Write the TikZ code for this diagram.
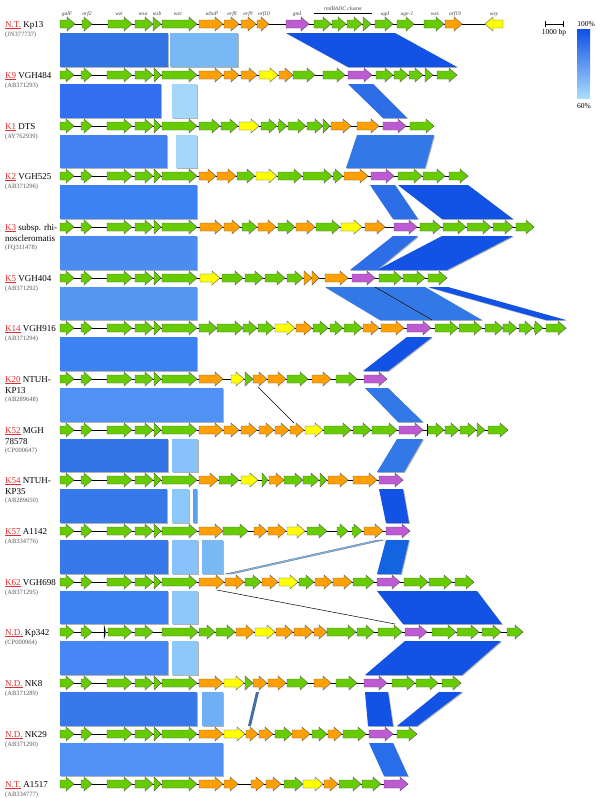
\documentclass[tikz,border=0pt]{standalone}
\usepackage{fontspec}
\setmainfont{Liberation Serif}
\definecolor{ggreen}{RGB}{102,204,0}
\definecolor{gorange}{RGB}{255,160,0}
\definecolor{gyellow}{RGB}{255,255,0}
\definecolor{gpurple}{RGB}{190,90,210}
\definecolor{kred}{RGB}{225,45,45}
\definecolor{acc}{RGB}{90,90,90}
\definecolor{bA}{RGB}{50,115,230}
\definecolor{bB}{RGB}{65,130,240}
\definecolor{bC}{RGB}{60,130,245}
\definecolor{bD}{RGB}{18,82,228}
\definecolor{bE}{RGB}{45,110,230}
\definecolor{bF}{RGB}{50,110,240}
\definecolor{bG}{RGB}{50,120,230}
\definecolor{bH}{RGB}{75,140,240}
\definecolor{bI}{RGB}{85,150,240}
\definecolor{bJ}{RGB}{80,145,245}
\definecolor{bK}{RGB}{55,120,235}
\definecolor{bL}{RGB}{70,135,245}
\definecolor{bM}{RGB}{40,110,235}
\definecolor{bN}{RGB}{20,100,225}
\definecolor{lA}{RGB}{120,185,245}
\definecolor{lB}{RGB}{165,215,250}
\definecolor{lC}{RGB}{135,195,250}
\definecolor{lD}{RGB}{140,200,250}
\definecolor{lE}{RGB}{90,160,240}
\definecolor{lF}{RGB}{110,175,245}
\definecolor{steel}{RGB}{70,110,160}
\definecolor{gradtop}{RGB}{15,80,230}
\definecolor{gradbot}{RGB}{170,220,252}
\tikzset{
  genestyle/.style={draw=black!65,line width=0.4pt},
  bbone/.style={draw=black,line width=0.9pt},
  lab/.style={anchor=base west,inner sep=0pt,font=\fontsize{9}{10}\selectfont},
  acclab/.style={anchor=base west,inner sep=0pt,font=\fontsize{6.5}{7}\selectfont,text=acc},
  toplab/.style={anchor=base,inner sep=0pt,font=\fontsize{5.5}{6}\selectfont\itshape,text=black!75},
  thinline/.style={draw=black,line width=0.5pt}
}
\newcommand{\gn}[4]{%
  \pgfmathsetmacro{\ghl}{min(8,#2-#1)}%
  \filldraw[genestyle,fill=#4] (#1,#3-4) -- ({#2-\ghl},#3-4) -- ({#2-\ghl},#3-7) -- (#2,#3) -- ({#2-\ghl},#3+7) -- ({#2-\ghl},#3+4) -- (#1,#3+4) -- cycle;}
\newcommand{\gnr}[4]{%
  \filldraw[genestyle,fill=#4] (#2,#3-4) -- (#1+8,#3-4) -- (#1+8,#3-7) -- (#1,#3) -- (#1+8,#3+7) -- (#1+8,#3+4) -- (#2,#3+4) -- cycle;}
\newcommand{\genes}[3]{\foreach \ga/\gb in {#3} {\gn{\ga}{\gb}{#1}{#2}}}
\newcommand{\stdl}[1]{\genes{#1}{ggreen}{60/74,81/92,107/132,135/153,154/161,162/197}}
\newcommand{\bbn}[3]{\draw[bbone] (#1,#3) -- (#2,#3);}
\newcommand{\hband}[7]{%
  \fill[black!30] ({#3+0.9},#1+9.9) -- ({#4+0.9},#1+9.9) -- ({#6+0.9},#2-7.1) -- ({#5+0.9},#2-7.1) -- cycle;
  \fill[#7] (#3,#1+9) -- (#4,#1+9) -- (#6,#2-8) -- (#5,#2-8) -- cycle;}
\newcommand{\strain}[5]{%
  \node[lab] (#1) at (5,#2+3) {\textcolor{kred}{\underline{#3}} #4};
  \node[acclab] (#1acc) at (5,#2+12.5) {#5};}
\newcommand{\straintwo}[6]{%
  \node[lab] (#1) at (5,#2+3) {\textcolor{kred}{\underline{#3}} #4};
  \node[lab] (#1b) at (5,#2+14) {#5};
  \node[acclab] (#1acc) at (5,#2+22.5) {#6};}
\begin{document}
\begin{tikzpicture}[x=1pt,y=-1pt]
\useasboundingbox (0,0) rectangle (600,798);
\fill[white] (0,0) rectangle (600,798);

% ---------------- bands ----------------
% 1-2
\hband{24}{75}{60}{168}{60}{168}{bA}
\hband{24}{75}{170}{238}{170}{238}{lA}
\hband{24}{75}{286}{395}{348}{457}{bD}
% 2-3
\hband{75}{126}{60}{161}{60}{161}{bF}
\hband{75}{126}{172}{197}{172}{197}{lB}
\hband{75}{126}{348}{373}{383}{407}{bE}
% 3-4
\hband{126}{176}{60}{167}{60}{167}{bB}
\hband{126}{176}{176}{197}{176}{197}{lB}
\hband{126}{176}{357}{434}{346}{425}{bG}
% 4-5
\hband{176}{227}{60}{197}{60}{197}{bC}
\hband{176}{227}{370}{395}{393}{418}{bE}
\hband{176}{227}{398}{468}{442}{513}{bD}
% 5-6
\hband{227}{278}{60}{197}{60}{197}{bH}
\hband{227}{278}{393}{418}{350}{377}{bE}
\hband{227}{278}{442}{513}{377}{447}{bD}
% 6-7
\hband{278}{328}{60}{197}{60}{197}{bI}
\hband{278}{328}{325}{375}{380}{432}{bG}
\hband{278}{328}{375}{425}{432}{482}{bG}
\hband{278}{328}{428}{448}{546}{566}{bD}
\coordinate (l1a) at (375,287);
\coordinate (l1b) at (432,320);
\draw[thinline] (l1a) -- (l1b);
% 7-8
\hband{328}{379}{60}{197}{60}{197}{bC}
\hband{328}{379}{407}{432}{363}{388}{bD}
% 8-9
\hband{379}{430}{60}{223}{60}{223}{bJ}
\hband{379}{430}{365}{388}{398}{423}{bG}
\coordinate (l2a) at (258,387);
\coordinate (l2b) at (294,423);
\draw[thinline] (l2a) -- (l2b);
% 9-10
\hband{430}{480}{60}{168}{60}{168}{bA}
\hband{430}{480}{172}{198}{172}{198}{lC}
\hband{430}{480}{397}{423}{377}{404}{bG}
% 10-11
\hband{480}{531}{60}{167}{60}{167}{bK}
\hband{480}{531}{172}{189}{172}{189}{lD}
\hband{480}{531}{193}{197}{193}{197}{lE}
\hband{480}{531}{379}{403}{386}{409}{bD}
% 11-12
\hband{531}{582}{60}{168}{60}{168}{bK}
\hband{531}{582}{172}{198}{172}{198}{lC}
\hband{531}{582}{202}{223}{202}{223}{lA}
\filldraw[fill=lA,draw=black!60,line width=0.3pt] (377,540) -- (384,540) -- (232,574) -- (225,574) -- cycle;
\hband{531}{582}{386}{409}{377}{401}{bN}
% 12-13
\hband{582}{632}{60}{168}{60}{168}{bC}
\hband{582}{632}{172}{198}{172}{198}{lD}
\hband{582}{632}{377}{477}{403}{502}{bD}
\coordinate (l3a) at (217,590);
\coordinate (l3b) at (395,624);
\draw[thinline] (l3a) -- (l3b);
% 13-14
\hband{632}{683}{60}{168}{60}{168}{bL}
\hband{632}{683}{172}{198}{172}{198}{lD}
\hband{632}{683}{405}{501}{365}{462}{bD}
% 14-15
\hband{683}{734}{60}{197}{60}{197}{bK}
\hband{683}{734}{202}{223}{202}{223}{lF}
\fill[steel] (256,692) -- (259,692) -- (251,726) -- (248,726) -- cycle;
\hband{683}{734}{365}{388}{368}{393}{bD}
\hband{683}{734}{439}{462}{397}{417}{bD}
% 15-16
\hband{734}{784}{60}{223}{60}{223}{bJ}
\hband{734}{784}{369}{393}{384}{408}{bM}

% ---------------- rows ----------------
% Row 1 Kp13
\bbn{60}{503}{24}
\genes{24}{ggreen}{60/75,82/92,108/132,135/153,153/161,162/197,314/331,332/346,347/362,363/371,375/393,397/414,424/444}
\genes{24}{gorange}{199/223,224/239,241/256,257/269,445/462}
\genes{24}{gpurple}{286/309}
\gnr{485}{503}{24}{gyellow}
% Row 2 K9
\bbn{60}{457}{75}
\stdl{75}
\genes{75}{gorange}{199/223,224/239,241/257,279/293}
\genes{75}{gyellow}{259/278}
\genes{75}{ggreen}{293/315,323/345,376/393,394/408,409/423,425/433,437/457}
\genes{75}{gpurple}{348/372}
% Row 3 K1
\bbn{60}{434}{126}
\stdl{126}
\genes{126}{ggreen}{199/220,221/238,261/277,278/287,288/306,307/323,323/330,410/434}
\genes{126}{gyellow}{239/259}
\genes{126}{gorange}{331/351,357/379}
\genes{126}{gpurple}{383/406}
% Row 4 K2
\bbn{60}{468}{176}
\stdl{176}
\genes{176}{gorange}{199/216,217/236,344/368}
\genes{176}{ggreen}{237/255,278/302,303/332,333/343,398/422,423/445,449/468}
\genes{176}{gyellow}{256/277}
\genes{176}{gpurple}{371/394}
% Row 5 K3
\bbn{60}{534}{227}
\stdl{227}
\genes{227}{gorange}{200/223,224/240,258/276,296/315,365/385}
\genes{227}{ggreen}{242/257,278/295,316/340,420/441,443/466,467/491,493/513,516/534}
\genes{227}{gyellow}{341/362}
\genes{227}{gpurple}{394/417}
% Row 6 K5
\bbn{60}{447}{278}
\stdl{278}
\genes{278}{gyellow}{200/220}
\genes{278}{ggreen}{222/243,245/263,265/285,287/303,379/402,403/425,428/447}
\genes{278}{gorange}{304/312,312/319,325/348}
\genes{278}{gpurple}{352/375}
% Row 7 K14
\bbn{60}{566}{328}
\stdl{328}
\genes{328}{ggreen}{199/217,217/243,243/257,258/274,313/328,330/343,344/362,435/458,459/482,485/503,503/517,519/533,534/543,546/566}
\genes{328}{gyellow}{275/295}
\genes{328}{gorange}{296/312,363/379,381/404}
\genes{328}{gpurple}{407/431}
% Row 8 K20
\bbn{60}{387}{379}
\stdl{379}
\genes{379}{gorange}{199/223,253/267,268/286,312/331}
\genes{379}{gyellow}{231/244}
\genes{379}{ggreen}{245/253,287/308,336/357}
\genes{379}{gpurple}{364/387}
% Row 9 K52
\bbn{60}{508}{430}
\stdl{430}
\genes{430}{gorange}{199/223,224/239,241/257,259/274,275/289,290/304}
\genes{430}{gyellow}{305/323}
\genes{430}{ggreen}{324/351,353/371,372/397,428/444,445/459,460/476,477/485,488/508}
\genes{430}{gpurple}{399/423}
\draw[black,line width=0.8pt] (427,424) -- (427,436);
% Row 10 K54
\bbn{60}{403}{480}
\stdl{480}
\genes{480}{gorange}{199/218,269/284,328/348,353/377}
\genes{480}{ggreen}{219/239,262/268,284/303,303/319,320/327}
\genes{480}{gyellow}{241/258}
\genes{480}{gpurple}{379/403}
% Row 11 K57
\bbn{60}{410}{531}
\stdl{531}
\genes{531}{gorange}{199/223,254/267,268/286,364/383}
\genes{531}{ggreen}{223/248,307/327,337/348,352/362}
\genes{531}{gyellow}{287/305}
\genes{531}{gpurple}{386/410}
% Row 12 K62
\bbn{60}{474}{582}
\stdl{582}
\genes{582}{gorange}{199/224,225/244,262/278,315/332,333/352}
\genes{582}{ggreen}{245/261,299/314,353/374,404/428,429/452,455/474}
\genes{582}{gyellow}{279/298}
\genes{582}{gpurple}{377/400}
% Row 13 Kp342
\bbn{60}{523}{632}
\genes{632}{ggreen}{60/74,81/92,104/106,108/132,135/153,162/198,199/215,216/235,327/356,357/374,378/402,432/456,457/479,482/501,507/523}
\draw[black,line width=0.6pt] (104,627) -- (104,637);
\genes{632}{gorange}{236/254,276/293,294/313,314/327}
\genes{632}{gyellow}{255/275}
\genes{632}{gpurple}{405/427}
% Row 14 NK8
\bbn{60}{461}{683}
\stdl{683}
\genes{683}{gorange}{199/223,253/267,268/286,314/331}
\genes{683}{gyellow}{224/244}
\genes{683}{ggreen}{245/253,287/308,336/357,392/415,416/438,442/461}
\genes{683}{gpurple}{364/387}
% Row 15 NK29
\bbn{60}{417}{734}
\stdl{734}
\genes{734}{gorange}{199/223,246/258,259/273,292/310,328/342}
\genes{734}{gyellow}{224/245}
\genes{734}{ggreen}{275/292,312/327,343/366,397/417}
\genes{734}{gpurple}{369/393}
% Row 16 A1517
\bbn{60}{408}{784}
\stdl{784}
\genes{784}{gorange}{199/223,224/238,251/264,266/281,324/338}
\genes{784}{ggreen}{284/303,339/361,362/381}
\genes{784}{gyellow}{303/323}
\genes{784}{gpurple}{384/408}

% ---------------- top gene labels ----------------
\node[toplab] (t1) at (67,15) {galF};
\node[toplab] (t2) at (87,15) {orf2};
\node[toplab] (t3) at (119,15) {wzi};
\node[toplab] (t4) at (143,15) {wza};
\node[toplab] (t5) at (157,15) {wzb};
\node[toplab] (t6) at (178,15) {wzc};
\node[toplab] (t7) at (212,15) {wbaP};
\node[toplab] (t8) at (232,15) {orf8};
\node[toplab] (t9) at (248,15) {orf9};
\node[toplab] (t10) at (264,15) {orf10};
\node[toplab] (t11) at (297,15) {gnd};
\node[toplab] (t12) at (343,10) {rmlBADC\ \textup{cluster}};
\coordinate (cl1) at (314,13);
\coordinate (cl2) at (372,13);
\draw[black,line width=0.6pt] (cl1) -- (cl2);
\node[toplab] (t13) at (385,15) {ugd};
\node[toplab] (t14) at (407,15) {uge-1};
\node[toplab] (t15) at (435,15) {wzx};
\node[toplab] (t16) at (455,15) {orf19};
\node[toplab] (t17) at (494,15) {wzy};

% ---------------- strain labels ----------------
\strain{s1}{24}{N.T.}{Kp13}{(JN377737)}
\strain{s2}{75}{K9}{VGH484}{(AB371293)}
\strain{s3}{126}{K1}{DTS}{(AY762939)}
\strain{s4}{176}{K2}{VGH525}{(AB371296)}
\straintwo{s5}{227}{K3}{subsp. rhi-}{noscleromatis}{(FQ311478)}
\strain{s6}{278}{K5}{VGH404}{(AB371292)}
\strain{s7}{328}{K14}{VGH916}{(AB371294)}
\straintwo{s8}{379}{K20}{NTUH-}{KP13}{(AB289648)}
\straintwo{s9}{430}{K52}{MGH}{78578}{(CP000647)}
\straintwo{s10}{480}{K54}{NTUH-}{KP35}{(AB289650)}
\strain{s11}{531}{K57}{A1142}{(AB334776)}
\strain{s12}{582}{K62}{VGH698}{(AB371295)}
\strain{s13}{632}{N.D.}{Kp342}{(CP000964)}
\strain{s14}{683}{N.D.}{NK8}{(AB371289)}
\strain{s15}{734}{N.D.}{NK29}{(AB371290)}
\strain{s16}{784}{N.T.}{A1517}{(AB334777)}

% ---------------- legend ----------------
\coordinate (sb1) at (545,24);
\coordinate (sb2) at (563,24);
\draw[black,line width=1pt] (sb1) -- (sb2);
\draw[black,line width=0.8pt] (545,21) -- (545,27) (563,21) -- (563,27);
\node[inner sep=0pt,font=\fontsize{7.5}{8}\selectfont] (sbl) at (554,33) {1000 bp};
\shade[top color=gradtop,bottom color=gradbot] (577,29) rectangle (590,98);
\node[inner sep=0pt,font=\fontsize{7.5}{8}\selectfont] (p100) at (586,24) {100\%};
\node[inner sep=0pt,font=\fontsize{7.5}{8}\selectfont] (p60) at (584,106) {60\%};
\end{tikzpicture}
\end{document}
